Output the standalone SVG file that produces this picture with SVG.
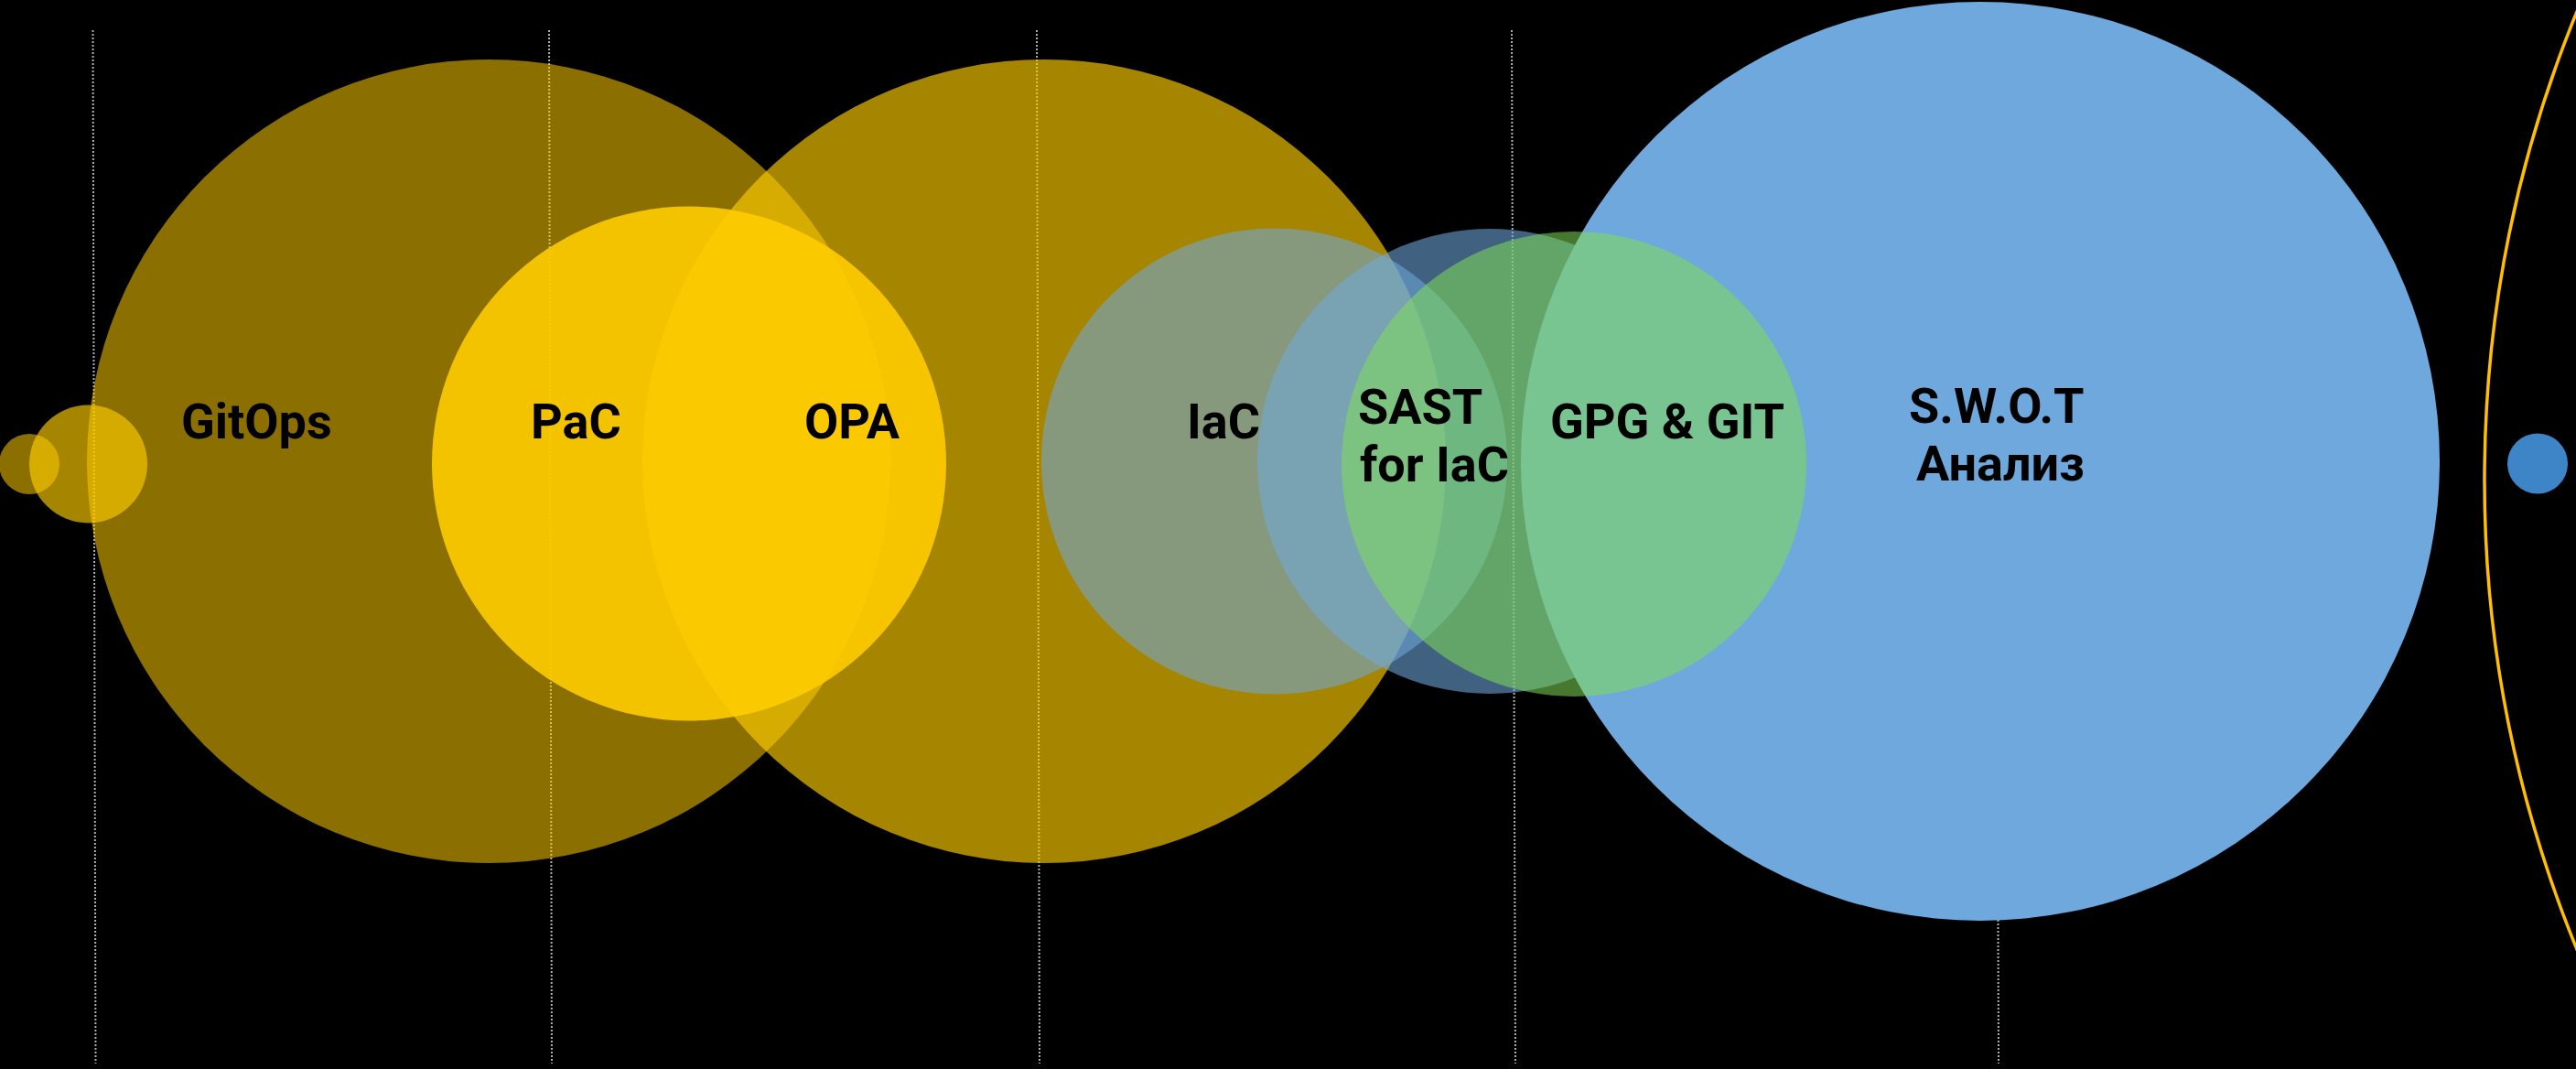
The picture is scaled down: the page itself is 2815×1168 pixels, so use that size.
<svg xmlns="http://www.w3.org/2000/svg" width="2815" height="1168" viewBox="0 0 2815 1168">
  <style>
    .lbl { font-family: Roboto, "Liberation Sans", "Noto Sans", sans-serif; font-weight: 700; font-size: 54px; fill: #000000; }
    .guide { stroke: #b0b0b0; stroke-width: 2; stroke-dasharray: 2 2; fill: none; }
    .gold { fill: #FFCC00; }
    .sky { fill: #6FA8DC; }
  </style>
  <rect x="0" y="0" width="2815" height="1168" fill="#000000"/>
  <g id="connectors">
    <line class="guide" x1="101.5" y1="33" x2="104.5" y2="1162"/>
    <line class="guide" x1="600" y1="33" x2="603" y2="1162"/>
    <line class="guide" x1="1133" y1="33" x2="1136" y2="1162"/>
    <line class="guide" x1="1652" y1="33" x2="1656" y2="1162"/>
    <line class="guide" x1="2180" y1="33" x2="2184" y2="1162"/>
  </g>
  <g id="dot-small-left">
    <circle class="gold" cx="32" cy="507" r="33" fill-opacity="0.545"/>
  </g>
  <g id="dot-medium-left">
    <circle class="gold" cx="96.5" cy="507" r="64.5" fill-opacity="0.65"/>
  </g>
  <g id="gitops">
    <circle class="gold" cx="534" cy="504" r="439" fill-opacity="0.545"/>
    <text class="lbl" x="198" y="479">GitOps</text>
  </g>
  <g id="opa">
    <circle class="gold" cx="1141" cy="504" r="439" fill-opacity="0.65"/>
  </g>
  <g id="pac">
    <circle class="gold" cx="753" cy="506.5" r="281" fill-opacity="0.9"/>
    <text class="lbl" x="580" y="479">PaC</text>
  </g>
  <g id="opa-label">
    <text class="lbl" x="879" y="479">OPA</text>
  </g>
  <g id="iac">
    <circle class="sky" cx="1392.5" cy="504" r="254.5" fill-opacity="0.565"/>
    <text class="lbl" x="1297" y="479">IaC</text>
  </g>
  <g id="sast">
    <circle class="sky" cx="1628" cy="504" r="254" fill-opacity="0.575"/>
  </g>
  <g id="swot">
    <circle class="sky" cx="2164" cy="504" r="502"/>
    <text class="lbl" x="2086" y="462">S.W.O.T</text>
    <text class="lbl" x="2094" y="525">Анализ</text>
  </g>
  <g id="gpg-git">
    <circle cx="1720" cy="507" r="254" fill="rgb(127,220,86)" fill-opacity="0.55"/>
    <text class="lbl" x="1694" y="479">GPG &amp; GIT</text>
  </g>
  <g id="sast-label">
    <text class="lbl" x="1484" y="463">SAST</text>
    <text class="lbl" x="1486" y="526">for IaC</text>
  </g>
  <g id="orbit">
    <circle cx="4065" cy="525" r="1350" fill="none" stroke="#FFBF00" stroke-width="3.5"/>
  </g>
  <g id="dot-blue-right">
    <circle cx="2773" cy="506.5" r="33" fill="#3D85C6"/>
  </g>
</svg>
